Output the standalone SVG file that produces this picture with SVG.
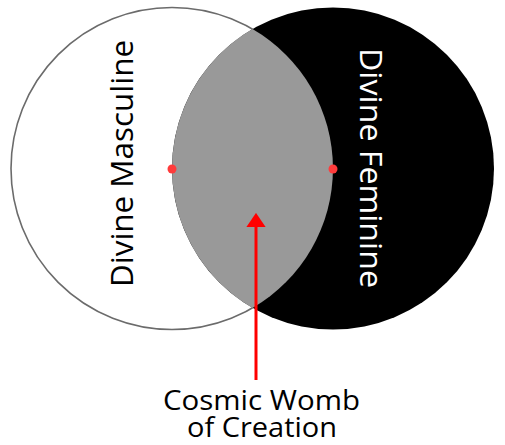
<svg xmlns="http://www.w3.org/2000/svg" width="505" height="445" viewBox="0 0 505 445">
<style>
text{font-family:"Open Sans","Liberation Sans",sans-serif;}
.lbl{font-size:31px;text-anchor:middle;}
.cap{font-size:27px;text-anchor:middle;fill:#000;}
.dot{fill:#ff3b3b;}
</style>
<defs>
<marker id="ah" markerWidth="4.7" markerHeight="6.4" refX="0" refY="3.2" orient="auto" markerUnits="strokeWidth">
<path d="M0,0 L4.7,3.2 L0,6.4 Z" fill="#ff0000"/>
</marker>
</defs>
<rect width="505" height="445" fill="#fff"/>
<g id="masculine">
<circle cx="172" cy="168.5" r="161" fill="#fff" stroke="#6b6b6b" stroke-width="1.6"/>
</g>
<g id="feminine">
<circle cx="333" cy="168.5" r="161" fill="#000"/>
</g>
<g id="womb">
<path d="M252.5,29.1 A161,161 0 0,1 252.5,307.9 A161,161 0 0,1 252.5,29.1 Z" fill="#999999"/>
</g>
<g id="dots">
<circle class="dot" cx="172" cy="169" r="4.5"/>
<circle class="dot" cx="333" cy="169" r="4.5"/>
</g>
<g id="labels">
<text class="lbl" transform="translate(133,163.5) rotate(-90)" fill="#000" textLength="247" lengthAdjust="spacingAndGlyphs">Divine Masculine</text>
<text class="lbl" transform="translate(360,168) rotate(90)" fill="#fff" textLength="240" lengthAdjust="spacingAndGlyphs">Divine Feminine</text>
</g>
<g id="connectors">
<line x1="256" y1="380" x2="256" y2="227" stroke="#ff0000" stroke-width="3" marker-end="url(#ah)"/>
</g>
<g id="caption">
<text class="cap" x="261.5" y="410" textLength="197" lengthAdjust="spacingAndGlyphs">Cosmic Womb</text>
<text class="cap" x="262" y="437" textLength="150" lengthAdjust="spacingAndGlyphs">of Creation</text>
</g>
</svg>
